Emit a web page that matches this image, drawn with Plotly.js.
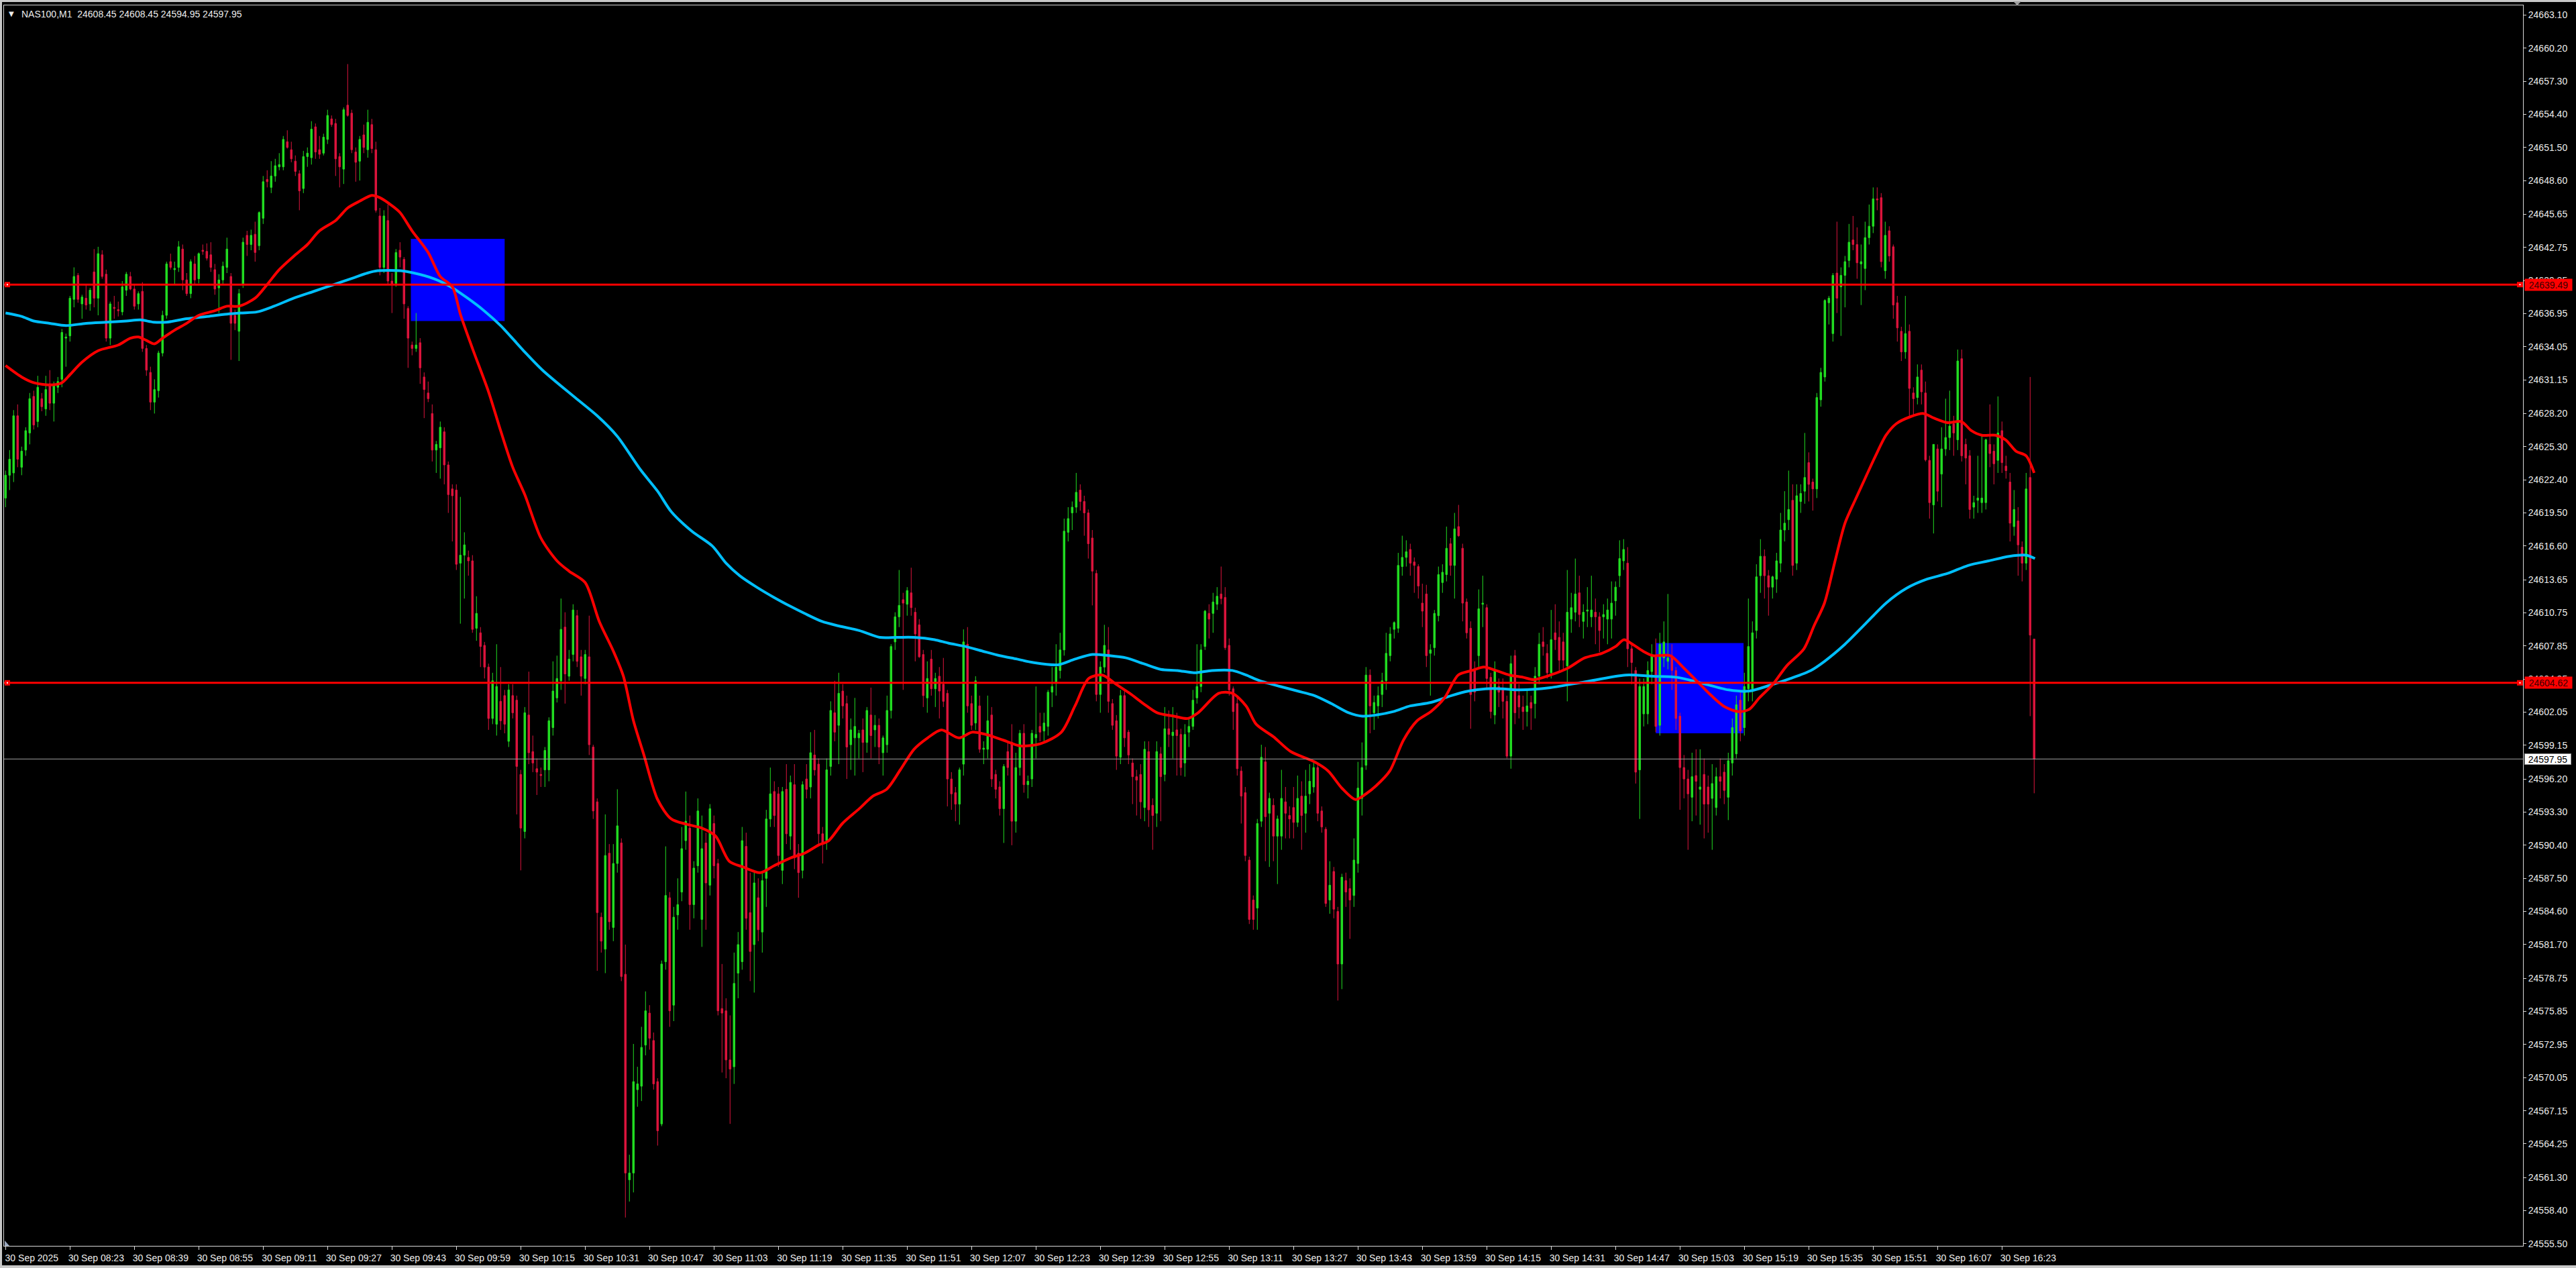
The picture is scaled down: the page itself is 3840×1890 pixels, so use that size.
<!DOCTYPE html>
<html>
<head>
<meta charset="utf-8">
<script src="https://cdn.plot.ly/plotly-3.0.1.min.js"></script>
<style>
html,body{margin:0;padding:0;background:#000;overflow:hidden;}
#chart{width:3840px;height:1890px;}
</style>
</head>
<body>
<div id="chart"></div>
<script>
// ---------------- DATA ----------------
const symbolTitle = "NAS100,M1\u00a0 24608.45 24608.45 24594.95 24597.95";

const timeLabels = ["30 Sep 2025","30 Sep 08:23","30 Sep 08:39","30 Sep 08:55","30 Sep 09:11","30 Sep 09:27",
  "30 Sep 09:43","30 Sep 09:59","30 Sep 10:15","30 Sep 10:31","30 Sep 10:47","30 Sep 11:03","30 Sep 11:19",
  "30 Sep 11:35","30 Sep 11:51","30 Sep 12:07","30 Sep 12:23","30 Sep 12:39","30 Sep 12:55","30 Sep 13:11",
  "30 Sep 13:27","30 Sep 13:43","30 Sep 13:59","30 Sep 14:15","30 Sep 14:31","30 Sep 14:47","30 Sep 15:03",
  "30 Sep 15:19","30 Sep 15:35","30 Sep 15:51","30 Sep 16:07","30 Sep 16:23"];
const minutesPerTimeLabel = 16;

const priceTicks = [24663.10,24660.20,24657.30,24654.40,24651.50,24648.60,24645.65,24642.75,24639.85,24636.95,
  24634.05,24631.15,24628.20,24625.30,24622.40,24619.50,24616.60,24613.65,24610.75,24607.85,24604.95,24602.05,
  24599.15,24596.20,24593.30,24590.40,24587.50,24584.60,24581.70,24578.75,24575.85,24572.95,24570.05,24567.15,
  24564.25,24561.30,24558.40,24555.50];

const openP = [
24620.8,24622.8,24623.0,24628.0,24623.5,24625.0,24626.5,24629.7,24627.5,24629.5,
24628.6,24630.8,24629.1,24630.5,24631.2,24634.8,24635.0,24638.2,24640.3,24637.8,
24638.3,24637.8,24640.6,24638.3,24642.1,24640.4,24634.8,24637.5,24637.3,24637.1,
24639.0,24640.2,24639.1,24637.8,24638.9,24633.9,24631.8,24629.2,24630.2,24633.5,
24636.8,24641.5,24640.8,24641.0,24642.6,24639.9,24638.7,24641.3,24640.0,24642.5,
24642.4,24642.1,24640.8,24639.2,24639.9,24641.0,24640.2,24636.8,24635.4,24639.5,
24643.8,24643.0,24643.9,24642.9,24645.3,24648.7,24648.0,24649.0,24649.8,24649.8,
24652.0,24651.3,24650.3,24649.2,24647.9,24650.7,24650.6,24653.3,24651.3,24651.0,
24652.2,24654.0,24653.6,24650.7,24649.6,24655.2,24654.5,24651.1,24650.3,24652.6,
24651.3,24653.5,24651.3,24645.5,24641.0,24645.1,24639.8,24639.6,24642.5,24641.7,
24637.4,24634.2,24633.9,24634.4,24631.4,24630.0,24628.2,24625.0,24625.2,24626.6,
24623.7,24621.6,24621.5,24615.1,24615.8,24615.6,24615.3,24609.4,24609.0,24607.9,
24606.0,24601.5,24601.0,24603.0,24603.5,24599.5,24603.5,24603.1,24596.6,24591.6,
24601.8,24598.6,24597.1,24596.6,24597.0,24597.0,24600.7,24603.3,24604.8,24609.5,
24605.2,24607.1,24610.5,24606.9,24605.0,24606.9,24599.0,24594.2,24584.1,24581.3,
24589.7,24583.2,24588.8,24590.6,24579.1,24561.1,24561.7,24569.0,24569.3,24572.9,
24575.7,24573.3,24569.7,24566.0,24580.2,24585.8,24576.4,24584.3,24586.3,24590.8,
24591.9,24585.2,24588.6,24583.9,24590.6,24586.9,24592.3,24588.8,24576.1,24575.9,
24571.6,24571.0,24579.2,24580.2,24590.3,24584.5,24581.7,24585.8,24582.8,24587.5,
24592.7,24595.1,24594.9,24588.2,24595.3,24591.2,24595.7,24589.7,24588.2,24596.2,
24595.5,24598.3,24597.5,24591.4,24590.8,24597.3,24602.0,24600.9,24603.9,24602.8,
24599.2,24599.8,24599.8,24600.5,24599.4,24601.8,24600.5,24600.9,24598.5,24599.2,
24602.2,24608.2,24610.4,24611.9,24611.5,24612.5,24610.8,24609.7,24607.1,24603.3,
24606.7,24604.1,24605.2,24604.5,24603.7,24596.2,24595.0,24594.0,24597.5,24608.0,
24602.8,24601.1,24602.6,24598.8,24598.8,24601.8,24596.6,24595.5,24593.6,24598.6,
24599.4,24592.5,24597.2,24600.2,24595.7,24596.2,24599.8,24600.8,24600.4,24600.8,
24603.8,24604.6,24605.7,24607.5,24617.8,24619.5,24620.0,24621.5,24620.5,24619.5,
24617.3,24614.2,24603.6,24606.0,24607.5,24602.8,24601.3,24598.1,24603.5,24600.3,
24597.6,24596.4,24596.6,24593.7,24598.6,24593.9,24593.2,24598.4,24596.6,24600.6,
24600.0,24600.5,24600.1,24597.6,24600.3,24600.8,24603.3,24604.3,24607.8,24610.7,
24610.7,24611.5,24612.4,24612.1,24607.9,24604.1,24602.8,24596.9,24595.0,24589.1,
24585.6,24584.9,24592.5,24597.7,24593.2,24593.9,24591.2,24591.2,24594.2,24593.0,
24593.7,24592.4,24594.7,24593.2,24594.9,24595.5,24597.2,24593.4,24591.8,24585.6,
24588.1,24584.6,24580.0,24587.3,24586.6,24586.0,24588.8,24594.5,24597.4,24605.3,
24602.0,24602.6,24603.6,24604.8,24607.0,24609.3,24609.4,24614.8,24615.6,24616.3,
24615.2,24614.8,24611.6,24612.4,24607.2,24607.7,24610.5,24613.4,24614.1,24616.8,
24614.9,24618.3,24616.4,24611.7,24609.4,24605.7,24607.0,24611.5,24611.2,24605.1,
24601.8,24604.3,24604.0,24603.0,24598.2,24607.0,24603.5,24602.5,24602.1,24602.9,
24602.8,24605.2,24608.2,24607.2,24605.5,24609.0,24608.6,24608.2,24606.1,24610.2,
24610.8,24612.5,24610.0,24610.9,24610.4,24610.8,24610.4,24610.4,24610.2,24610.2,
24611.8,24614.0,24615.3,24615.1,24607.6,24605.7,24597.0,24601.9,24601.9,24605.6,
24607.0,24600.9,24606.8,24606.5,24607.0,24605.7,24601.7,24597.2,24596.2,24594.6,
24596.5,24595.3,24596.6,24595.5,24594.5,24593.7,24596.4,24596.8,24594.6,24597.6,
24598.4,24603.1,24600.7,24604.1,24604.1,24609.2,24614.0,24615.7,24614.0,24613.0,
24613.7,24615.1,24618.0,24618.9,24620.6,24615.1,24620.5,24621.4,24623.9,24622.2,
24621.6,24629.4,24631.4,24637.9,24635.2,24640.5,24639.3,24640.3,24641.6,24643.4,
24643.0,24641.3,24640.9,24643.6,24644.6,24647.0,24647.1,24640.7,24644.2,24642.8,
24637.9,24635.4,24633.6,24635.4,24630.0,24629.6,24632.0,24630.0,24624.1,24620.2,
24625.1,24622.9,24625.1,24626.1,24627.3,24625.9,24633.0,24625.5,24624.5,24620.0,
24620.6,24620.4,24620.4,24625.5,24624.9,24624.1,24626.7,24623.6,24622.2,24618.3,
24618.8,24616.5,24615.1,24622.6,24608.45];

const highP = [
24623.2,24625.0,24628.5,24629.0,24625.3,24627.0,24630.0,24630.2,24631.5,24630.0,
24631.5,24632.0,24631.0,24631.4,24635.6,24635.2,24638.5,24641.0,24640.5,24638.6,
24639.5,24639.2,24642.6,24642.8,24642.5,24640.8,24638.0,24638.5,24638.0,24639.8,
24640.6,24640.6,24639.5,24638.9,24639.7,24634.2,24632.3,24631.2,24633.7,24637.2,
24641.5,24642.2,24641.5,24643.3,24643.0,24640.5,24641.7,24642.0,24642.3,24643.0,
24643.1,24643.2,24641.3,24640.4,24641.5,24643.6,24640.5,24637.3,24639.1,24643.6,
24644.2,24644.3,24645.0,24645.9,24649.0,24649.5,24650.3,24650.5,24651.0,24652.5,
24653.0,24652.0,24650.8,24649.5,24651.2,24651.5,24653.8,24653.6,24652.5,24652.7,
24654.8,24654.3,24654.0,24651.0,24655.0,24658.8,24654.8,24651.5,24652.5,24653.5,
24654.8,24654.0,24652.0,24646.2,24646.0,24646.5,24640.5,24642.6,24643.2,24641.9,
24637.6,24634.5,24637.0,24634.8,24631.8,24631.0,24629.0,24625.8,24627.5,24627.0,
24624.0,24622.0,24622.0,24620.9,24617.8,24616.2,24615.8,24612.2,24609.5,24608.2,
24606.3,24605.5,24608.0,24606.0,24604.0,24604.5,24604.5,24603.5,24597.0,24602.5,
24605.6,24600.0,24598.0,24597.2,24599.0,24601.6,24606.5,24607.0,24612.0,24610.8,
24607.5,24611.5,24611.0,24607.5,24607.5,24610.5,24599.2,24594.5,24584.5,24593.1,
24590.5,24590.5,24595.3,24591.0,24581.7,24563.3,24573.0,24571.0,24574.5,24577.6,
24576.4,24574.0,24570.0,24580.3,24590.3,24586.3,24585.0,24587.5,24592.0,24595.1,
24593.0,24589.0,24594.5,24593.0,24591.5,24594.0,24593.0,24589.2,24580.0,24577.0,
24575.5,24581.0,24582.8,24592.0,24591.5,24588.0,24588.0,24587.5,24588.0,24593.5,
24597.2,24596.0,24595.5,24595.5,24597.5,24596.5,24597.5,24590.5,24596.0,24597.5,
24600.3,24600.5,24598.0,24592.0,24598.0,24603.0,24604.8,24605.5,24604.5,24603.5,
24601.5,24603.3,24600.5,24601.5,24602.5,24604.2,24601.8,24601.5,24600.0,24603.5,
24608.0,24610.8,24614.5,24612.5,24613.0,24614.7,24611.2,24610.2,24607.5,24606.5,
24607.5,24605.5,24606.0,24606.8,24604.0,24596.8,24595.5,24597.2,24609.3,24609.5,
24603.5,24605.2,24603.5,24599.5,24603.5,24602.5,24597.0,24596.0,24597.5,24599.5,
24601.0,24598.5,24600.5,24601.0,24596.5,24600.5,24604.3,24602.0,24602.0,24604.0,
24606.0,24608.0,24609.0,24619.0,24620.0,24620.5,24623.0,24622.0,24621.0,24619.8,
24618.0,24614.5,24606.5,24609.7,24609.5,24603.2,24601.8,24604.0,24604.0,24600.5,
24598.0,24597.0,24597.5,24599.5,24599.5,24594.5,24599.5,24599.0,24602.5,24602.2,
24602.5,24602.0,24600.6,24601.0,24601.5,24604.0,24608.0,24608.0,24611.0,24611.5,
24612.5,24613.0,24614.8,24613.0,24608.5,24604.3,24603.5,24597.3,24595.5,24589.4,
24586.0,24592.7,24599.2,24599.0,24595.0,24594.5,24593.0,24597.0,24595.5,24593.8,
24595.5,24596.5,24596.0,24597.0,24597.5,24597.8,24597.5,24593.8,24592.0,24589.0,
24588.5,24585.0,24587.9,24588.0,24587.5,24591.0,24597.7,24599.4,24606.0,24605.8,
24603.5,24604.3,24605.5,24609.0,24609.5,24610.0,24616.0,24617.5,24617.1,24616.8,
24615.6,24615.0,24613.3,24613.2,24608.0,24611.0,24614.8,24615.0,24618.3,24617.3,
24619.5,24620.2,24616.8,24612.0,24610.0,24606.5,24612.8,24614.0,24611.5,24605.5,
24606.5,24605.0,24605.0,24603.5,24607.0,24607.5,24604.5,24603.5,24604.0,24603.5,
24606.0,24609.0,24609.5,24608.0,24611.0,24611.5,24610.0,24609.0,24614.5,24612.5,
24615.5,24614.0,24611.5,24613.0,24614.0,24612.0,24610.8,24611.5,24612.0,24613.5,
24613.5,24617.1,24617.2,24616.5,24608.0,24606.0,24605.0,24605.0,24606.5,24608.0,
24608.5,24609.0,24610.0,24612.4,24608.0,24606.0,24602.0,24598.3,24597.0,24598.5,
24598.8,24598.8,24598.0,24596.5,24597.5,24597.2,24598.0,24597.5,24598.5,24601.5,
24603.5,24604.0,24605.5,24612.0,24610.0,24615.0,24617.2,24616.3,24614.5,24614.0,
24616.0,24619.5,24621.4,24623.2,24622.0,24622.0,24622.0,24626.5,24624.8,24622.5,
24630.0,24632.2,24638.2,24638.5,24640.5,24645.0,24641.0,24642.0,24644.8,24645.5,
24644.5,24643.0,24645.0,24646.5,24648.0,24648.0,24647.5,24645.0,24644.6,24643.0,
24638.5,24635.8,24638.5,24636.0,24630.5,24632.5,24632.5,24631.0,24624.5,24625.5,
24625.5,24627.0,24629.5,24630.2,24628.0,24633.8,24633.8,24626.0,24625.0,24621.0,
24624.5,24626.3,24626.0,24629.0,24625.5,24629.7,24627.5,24624.5,24623.0,24621.5,
24620.0,24617.0,24623.0,24631.4,24608.45];

const lowP = [
24620.0,24621.5,24622.2,24623.5,24622.8,24624.5,24625.5,24626.8,24627.0,24628.4,
24628.0,24628.5,24627.5,24630.0,24630.5,24632.3,24634.5,24637.5,24637.9,24636.5,
24637.3,24637.2,24637.5,24636.8,24640.0,24634.5,24634.2,24636.5,24636.7,24636.8,
24638.5,24639.0,24637.3,24637.3,24633.6,24631.5,24628.5,24628.2,24629.6,24633.2,
24636.5,24640.8,24639.5,24640.6,24639.0,24638.5,24638.3,24639.5,24639.6,24642.1,
24641.6,24640.6,24638.6,24637.0,24639.5,24640.5,24632.9,24635.5,24632.8,24639.2,
24642.0,24642.5,24641.5,24642.5,24644.8,24648.0,24647.5,24648.5,24649.5,24649.5,
24651.4,24650.2,24649.0,24646.0,24647.5,24649.8,24650.0,24650.5,24650.5,24650.8,
24651.8,24653.3,24649.0,24648.0,24648.3,24654.2,24651.0,24648.5,24648.6,24651.0,
24650.6,24651.0,24645.8,24640.3,24640.5,24639.5,24637.0,24639.3,24641.0,24636.5,
24632.2,24633.3,24633.6,24630.8,24627.8,24629.2,24624.0,24623.0,24622.5,24622.0,
24619.5,24617.0,24614.5,24609.8,24612.0,24614.0,24609.0,24608.3,24606.0,24605.0,
24600.5,24601.0,24600.0,24600.5,24600.2,24599.0,24601.5,24593.1,24588.2,24591.0,
24597.5,24596.8,24594.8,24595.5,24595.5,24596.0,24600.0,24602.9,24604.0,24602.8,
24604.8,24606.5,24606.0,24603.5,24604.5,24598.3,24592.7,24579.4,24581.0,24579.2,
24583.0,24582.0,24588.0,24578.5,24557.8,24559.2,24560.0,24567.5,24568.0,24572.0,
24572.5,24569.0,24564.1,24565.8,24579.5,24574.5,24575.0,24583.0,24585.5,24590.0,
24583.0,24584.0,24588.0,24581.5,24583.0,24586.0,24587.5,24575.5,24570.5,24570.0,
24566.0,24569.5,24577.0,24579.5,24583.0,24578.5,24577.5,24582.0,24581.0,24585.0,
24592.0,24592.0,24588.5,24587.0,24590.5,24590.0,24588.3,24585.8,24587.5,24594.5,
24594.5,24596.5,24590.5,24588.8,24590.0,24596.5,24599.5,24597.5,24601.5,24596.2,
24597.0,24596.5,24598.0,24596.8,24598.5,24598.0,24599.0,24597.5,24596.5,24598.5,
24601.5,24607.5,24609.5,24604.0,24610.5,24610.5,24606.5,24606.8,24602.5,24602.0,
24603.5,24602.5,24601.5,24602.5,24593.8,24593.5,24592.5,24592.2,24596.5,24602.0,
24600.5,24600.5,24598.5,24597.5,24598.0,24595.5,24594.5,24593.0,24590.6,24596.5,
24590.4,24591.5,24596.5,24595.0,24594.5,24595.5,24598.0,24599.5,24599.5,24600.0,
24602.5,24603.5,24605.0,24607.0,24617.0,24618.0,24619.5,24619.7,24617.5,24615.5,
24611.4,24603.0,24602.0,24605.5,24602.0,24600.5,24597.0,24597.5,24599.0,24597.5,
24594.0,24593.0,24592.7,24592.5,24592.0,24590.0,24592.0,24592.5,24596.0,24599.0,
24598.0,24596.5,24596.5,24596.4,24599.0,24600.5,24602.8,24603.8,24607.5,24608.5,
24609.0,24611.0,24611.5,24607.5,24603.5,24600.5,24596.5,24592.3,24589.0,24583.5,
24583.0,24583.0,24592.0,24589.0,24588.5,24589.0,24587.0,24590.0,24591.0,24591.0,
24591.0,24592.0,24590.0,24591.5,24594.0,24595.0,24592.5,24591.5,24585.0,24584.4,
24584.0,24576.8,24577.8,24585.0,24582.2,24585.0,24588.0,24593.0,24597.0,24600.2,
24600.5,24601.5,24602.5,24604.0,24606.5,24608.5,24609.0,24614.0,24614.8,24614.0,
24612.5,24612.0,24609.5,24606.0,24603.5,24607.0,24610.0,24612.5,24613.5,24614.0,
24612.0,24617.4,24610.0,24608.5,24600.6,24603.0,24606.0,24609.5,24604.0,24601.5,
24601.0,24602.5,24601.5,24598.0,24597.1,24601.0,24601.5,24600.5,24600.8,24600.5,
24601.5,24604.5,24607.0,24605.0,24605.0,24607.5,24605.5,24605.8,24603.0,24609.0,
24610.0,24609.5,24608.5,24609.5,24609.5,24608.0,24607.3,24608.5,24608.0,24608.5,
24610.5,24613.0,24614.5,24606.0,24604.5,24595.8,24592.7,24600.8,24601.0,24604.5,
24600.3,24600.0,24606.0,24605.8,24604.0,24600.5,24593.5,24594.5,24590.0,24592.5,
24593.0,24592.2,24591.0,24591.5,24590.0,24593.0,24594.5,24594.0,24592.6,24596.5,
24598.0,24599.5,24600.0,24603.0,24603.0,24608.5,24612.5,24612.0,24610.5,24612.0,
24612.5,24614.3,24617.0,24618.0,24614.0,24614.5,24619.5,24620.3,24620.5,24619.7,
24620.8,24628.8,24631.0,24636.0,24634.5,24637.0,24635.0,24637.5,24641.0,24642.5,
24640.0,24637.7,24639.0,24643.0,24644.0,24646.0,24641.0,24640.0,24641.5,24636.5,
24634.5,24632.8,24633.0,24628.0,24628.0,24629.0,24629.0,24624.0,24619.0,24617.7,
24620.5,24620.0,24624.5,24625.0,24624.5,24625.0,24624.0,24622.0,24619.0,24619.0,
24619.5,24619.5,24619.8,24623.5,24622.0,24623.0,24623.0,24622.5,24617.0,24617.5,
24614.0,24613.5,24614.5,24601.7,24594.95];

const closeP = [
24622.8,24624.2,24628.0,24624.2,24624.9,24626.7,24629.5,24627.2,24630.5,24628.8,
24630.3,24629.1,24630.7,24631.0,24635.3,24634.9,24638.3,24640.2,24638.2,24638.4,
24637.7,24639.0,24638.3,24642.2,24640.2,24634.8,24637.8,24637.4,24637.2,24639.3,
24640.4,24639.1,24637.6,24638.7,24633.9,24632.0,24629.2,24630.3,24633.5,24636.8,
24641.3,24641.0,24640.9,24642.8,24639.9,24638.7,24641.5,24639.9,24642.2,24642.4,
24641.8,24641.0,24639.1,24639.9,24641.1,24642.6,24636.1,24636.1,24638.7,24643.2,
24643.0,24643.8,24642.3,24645.8,24648.5,24648.5,24649.0,24649.9,24650.0,24652.2,
24651.5,24650.5,24649.4,24647.7,24650.7,24651.0,24653.1,24651.1,24650.9,24652.4,
24654.3,24653.5,24650.5,24649.8,24654.8,24654.3,24651.3,24650.2,24652.2,24651.5,
24653.7,24651.4,24646.0,24641.0,24645.5,24639.8,24639.5,24642.3,24641.9,24637.8,
24634.8,24633.9,24634.2,24632.2,24630.3,24629.5,24625.0,24625.5,24627.0,24623.7,
24621.1,24621.0,24615.0,24615.8,24616.7,24615.3,24609.3,24610.7,24607.8,24606.0,
24601.5,24604.8,24604.3,24601.3,24601.0,24604.0,24602.0,24597.3,24591.9,24602.0,
24598.5,24597.6,24596.8,24596.5,24598.7,24601.3,24603.9,24605.0,24609.3,24605.4,
24606.7,24611.0,24606.5,24605.2,24607.1,24599.2,24593.4,24584.5,24582.0,24589.5,
24583.7,24588.8,24592.1,24578.9,24561.7,24561.7,24569.7,24569.5,24572.7,24575.9,
24573.5,24569.5,24565.4,24580.0,24586.0,24575.9,24584.1,24585.2,24590.1,24592.5,
24585.2,24588.4,24593.4,24590.1,24587.1,24593.6,24588.6,24575.9,24575.7,24571.6,
24570.8,24578.3,24581.7,24590.8,24584.0,24581.1,24587.1,24583.0,24587.3,24592.7,
24594.9,24593.0,24589.5,24595.1,24591.4,24595.9,24589.3,24588.0,24595.7,24595.3,
24598.5,24597.0,24591.4,24590.6,24597.0,24602.2,24600.3,24603.7,24602.6,24599.0,
24600.5,24600.8,24600.2,24599.4,24602.2,24600.0,24600.9,24599.0,24599.8,24602.2,
24607.8,24610.4,24611.4,24611.6,24612.7,24611.2,24608.9,24606.9,24603.5,24605.0,
24604.1,24605.0,24603.9,24603.0,24596.2,24594.9,24594.0,24597.0,24608.2,24602.6,
24600.9,24604.8,24598.8,24598.9,24601.3,24596.2,24595.3,24593.6,24597.3,24597.2,
24592.5,24597.2,24600.2,24595.7,24596.0,24600.2,24600.1,24600.3,24601.1,24603.8,
24604.3,24606.0,24607.5,24617.9,24619.0,24620.0,24621.3,24620.5,24619.5,24616.8,
24614.4,24603.6,24606.0,24607.9,24603.0,24600.9,24598.2,24603.5,24599.8,24598.3,
24596.4,24596.1,24594.2,24598.8,24593.5,24593.0,24598.6,24596.4,24600.6,24600.1,
24600.3,24600.0,24597.2,24600.1,24600.8,24603.1,24604.3,24607.5,24610.9,24610.2,
24611.7,24612.2,24612.0,24607.7,24604.0,24602.1,24597.1,24594.7,24589.5,24583.9,
24583.9,24592.3,24598.1,24592.9,24594.5,24591.2,24592.7,24594.5,24593.2,24592.7,
24592.4,24594.5,24593.0,24594.7,24596.0,24597.2,24593.2,24592.0,24585.3,24586.9,
24584.8,24580.0,24587.6,24586.3,24585.6,24589.1,24595.4,24597.2,24605.3,24602.6,
24602.9,24603.5,24604.8,24607.2,24608.9,24609.9,24614.9,24615.6,24616.1,24615.1,
24614.9,24613.1,24610.9,24607.0,24607.5,24610.7,24614.1,24614.3,24616.4,24614.9,
24618.1,24617.5,24611.6,24609.0,24603.6,24603.8,24611.1,24611.6,24605.0,24602.1,
24605.7,24603.8,24603.0,24598.2,24606.3,24602.0,24602.5,24602.1,24602.6,24602.4,
24605.2,24608.0,24607.8,24605.5,24608.4,24608.4,24606.6,24606.6,24610.8,24611.2,
24612.4,24610.6,24610.8,24611.0,24611.0,24610.4,24609.2,24610.6,24611.0,24611.6,
24613.0,24615.5,24616.3,24607.6,24606.4,24596.8,24604.3,24604.3,24605.7,24607.0,
24600.8,24608.0,24608.2,24606.8,24605.7,24601.5,24597.2,24596.2,24594.9,24596.4,
24596.0,24595.5,24594.0,24594.0,24595.8,24596.4,24596.0,24595.2,24597.8,24600.7,
24602.7,24600.4,24604.3,24607.8,24609.0,24613.9,24615.7,24614.0,24613.0,24613.9,
24615.3,24618.0,24618.6,24619.8,24614.9,24621.0,24621.2,24622.6,24622.0,24621.6,
24629.6,24631.8,24638.1,24638.3,24640.3,24638.3,24640.3,24641.5,24643.2,24643.0,
24641.4,24641.5,24643.6,24644.6,24647.0,24646.9,24641.5,24643.8,24642.0,24637.7,
24635.7,24633.6,24635.2,24630.4,24629.5,24631.4,24630.1,24624.15,24620.4,24625.5,
24621.4,24625.1,24626.1,24627.1,24626.5,24632.8,24624.5,24624.3,24619.8,24620.4,
24620.8,24620.8,24625.9,24624.7,24623.8,24626.5,24623.9,24623.2,24618.6,24619.8,
24616.7,24615.1,24621.6,24608.8,24597.95];

// Moving averages (x = minute index, y = price)
const maRedX = [0,4,7,11,14,16,19,23,28,31,33,35,37,39,42,45,48,52,55,58,62,65,68,72,75,78,82,85,88,91,
  93,96,98,101,105,108,111,113,116,120,123,126,129,133,137,140,144,147.5,151,153.5,156,158.6,162,165.4,169.6,
  173,176.4,179.8,183.2,187.5,190.9,195.1,198.5,201.9,204.5,207.9,212.1,215.5,218.9,222.3,225.7,229.1,232.5,
  236.8,240.2,243.6,247.9,252.1,257.2,262.3,265.7,269.1,272.5,275.9,279.3,282.7,286.1,290.3,293.7,296.3,301.4,
  304.8,308.2,310.7,315,319.3,325.2,328.6,332,335.4,338,340.5,343.9,347.3,350.7,354.1,357.5,360.9,364.3,367.3,
  370.3,373.7,377.1,379.6,383.8,388.1,392.3,396.6,400,402.1,404.2,406.8,409.3,413.6,417,420.4,423.8,427.2,
  430.6,433.2,435.7,439.1,442.5,446.8,449.3,451.9,454.4,457,459.5,462.1,464.6,467.2,469.7,473.1,476.5,479.1,
  482.5,485.9,488.4,491,494.4,496.9,499.5,502,504];
const maRedY = [24632.4,24631.4,24630.9,24630.7,24630.9,24631.6,24632.7,24633.7,24634.2,24634.8,
  24634.9,24634.6,24634.3,24634.8,24635.5,24636.1,24636.8,24637.2,24637.6,24637.6,
  24638.3,24639.5,24640.8,24642.1,24643.0,24644.2,24645.1,24646.2,24646.8,24647.3,
  24647.1,24646.4,24645.8,24644.2,24642.3,24640.2,24639.3,24636.9,24633.9,24630.1,
  24626.7,24623.5,24621.1,24617.3,24615.3,24614.4,24613.4,24610.0,24607.4,24605.2,
  24601.3,24598.3,24594.4,24592.7,24592.2,24591.9,24591.2,24589.0,24588.5,24588.0,
  24588.6,24589.3,24589.7,24590.4,24590.8,24592.3,24593.6,24594.7,24595.3,24597.0,
  24598.8,24599.8,24600.5,24599.8,24600.3,24600.1,24599.6,24599.1,24599.3,24600.3,
  24602.6,24605.0,24605.3,24604.5,24603.7,24602.8,24602.0,24601.7,24601.5,24602.0,
  24603.7,24603.7,24602.6,24601.0,24599.9,24598.6,24597.7,24596.9,24595.4,24594.4,
  24594.9,24595.6,24596.9,24599.6,24601.3,24602.1,24603.3,24605.3,24605.7,24606.0,
  24605.7,24605.3,24605.1,24604.9,24605.3,24605.9,24606.8,24607.2,24607.8,24608.4,
  24608.0,24607.4,24607.0,24607.0,24605.9,24604.7,24603.5,24602.5,24602.1,24602.3,
  24603.3,24604.5,24606.1,24607.6,24609.6,24611.6,24615.1,24618.6,24620.6,24622.6,
  24624.5,24626.3,24627.3,24627.9,24628.2,24627.8,24627.4,24627.5,24626.7,24626.3,
  24626.3,24625.9,24624.9,24624.5,24623.0];

const maBlueX = [0,4,7,11,15,20,25,30,33.5,36.8,40,45,50,55,58.4,62.5,66.7,71.6,76.6,81.6,
  86.6,89.9,92.4,98.2,101.5,106.5,110.6,114.8,118.9,123,128.7,133.4,141.5,147,152,157.7,162,165.4,170.5,175.6,
  179,182.4,186.6,190.9,195.1,198.5,202.8,207,212.1,217.2,221.5,225.7,230.8,234.2,238.5,242.7,247,251.3,255.3,261.4,
  265.7,270,274.2,278.4,282.7,287,291.2,295.4,299.7,304.8,308.2,311.6,316.7,321,325.2,329.4,333.7,337.1,340.5,344.8,
  349,354.1,359.2,363.5,367.7,372,376.2,383.8,392.3,402.5,409.3,415.3,421.3,428.1,433.2,438.3,443.4,448.5,451.9,457,
  462.1,467.2,472.3,477.4,482.5,487.6,492.7,497.8,502,504.2];
const maBlueY = [24637.0,24636.7,24636.3,24636.1,24635.9,24636.1,24636.2,24636.3,24636.4,24636.2,
  24636.2,24636.5,24636.7,24636.9,24637.0,24637.1,24637.6,24638.3,24638.9,24639.5,
  24640.1,24640.5,24640.7,24640.7,24640.5,24640.0,24639.3,24638.3,24637.2,24635.9,
  24633.7,24632.0,24629.6,24628.0,24626.2,24623.3,24621.4,24619.6,24617.9,24616.6,
  24615.1,24614.0,24613.0,24612.1,24611.3,24610.7,24610.0,24609.6,24609.2,24608.6,
  24608.6,24608.6,24608.4,24608.1,24607.8,24607.4,24607.0,24606.7,24606.4,24606.2,
  24606.7,24607.1,24607.0,24606.8,24606.3,24605.8,24605.7,24605.5,24605.7,24605.7,
  24605.3,24604.8,24604.3,24603.9,24603.5,24602.8,24602.0,24601.7,24601.8,24602.1,
  24602.6,24602.9,24603.5,24603.9,24604.1,24604.1,24604.0,24604.2,24604.7,24605.3,
  24605.2,24605.1,24604.6,24604.0,24603.9,24604.4,24605.0,24605.7,24606.5,24608.0,
  24609.8,24611.6,24612.9,24613.7,24614.2,24614.9,24615.3,24615.7,24615.8,24615.5];

const levelPrices = [24639.49, 24604.62];
const bidPrice = 24597.95;
const zoneStart = [100.7, 410.0];
const zoneEnd = [124.0, 431.8];
const zoneLow = [24636.3, 24600.2];
const zoneHigh = [24643.5, 24608.1];

// ---------------- STYLE / LAYOUT ----------------
const W = 3840, H = 1890;
const PL = 6, PR = 3761, PT = 8, PB = 1857;
const px = v => (v - PL) / (PR - PL);
const py = v => (PB - v) / (PB - PT);

const BULL = '#22dd22', BEAR = '#dc143c';
const FG = '#d9d9d9', TXT = '#ececec';
const FONT = 'Liberation Sans, Arial, sans-serif';

const idx = openP.map((_, i) => i);

const traces = [
  {
    type: 'candlestick', x: idx, open: openP, high: highP, low: lowP, close: closeP,
    increasing: {line: {color: BULL, width: 1}, fillcolor: BULL},
    decreasing: {line: {color: BEAR, width: 1}, fillcolor: BEAR},
    whiskerwidth: 0, hoverinfo: 'skip', showlegend: false
  },
  {
    type: 'scatter', mode: 'lines', x: maBlueX, y: maBlueY,
    line: {color: '#00bfff', width: 4, shape: 'spline', smoothing: 0.8},
    hoverinfo: 'skip', showlegend: false
  },
  {
    type: 'scatter', mode: 'lines', x: maRedX, y: maRedY,
    line: {color: '#ff0000', width: 4, shape: 'spline', smoothing: 0.8},
    hoverinfo: 'skip', showlegend: false
  }
];

const shapes = [];
zoneStart.forEach((x0, i) => {
  shapes.push({type: 'rect', xref: 'x', yref: 'y', x0: x0, x1: zoneEnd[i], y0: zoneLow[i], y1: zoneHigh[i],
    fillcolor: '#0000ff', line: {width: 0}, layer: 'below'});
});
shapes.push({type: 'line', xref: 'paper', yref: 'y', x0: 0, x1: 1, y0: bidPrice, y1: bidPrice,
  line: {color: '#a0a0a0', width: 1}, layer: 'above'});
levelPrices.forEach(p => {
  shapes.push({type: 'line', xref: 'paper', yref: 'y', x0: 0, x1: 1, y0: p, y1: p,
    line: {color: '#ff0000', width: 3}, layer: 'above'});
  [[7, 15], [3752, 3761]].forEach(([a, b]) => {
    shapes.push({type: 'rect', xref: 'paper', yref: 'y', x0: px(a), x1: px(b), ysizemode: 'pixel', yanchor: p,
      y0: -4, y1: 4, fillcolor: '#ff0000', line: {width: 0}, layer: 'above'});
    const c = (a + b) / 2;
    shapes.push({type: 'rect', xref: 'paper', yref: 'y', x0: px(c - 1), x1: px(c + 1), ysizemode: 'pixel', yanchor: p,
      y0: -1, y1: 1, fillcolor: '#ffffff', line: {width: 0}, layer: 'above'});
  });
});
// window frame
shapes.push({type: 'rect', xref: 'paper', yref: 'paper', x0: px(0), x1: px(W), y0: py(0), y1: py(3),
  fillcolor: '#c8c8c8', line: {width: 0}, layer: 'above'});
shapes.push({type: 'rect', xref: 'paper', yref: 'paper', x0: px(0), x1: px(W), y0: py(1886), y1: py(H),
  fillcolor: '#c8c8c8', line: {width: 0}, layer: 'above'});
shapes.push({type: 'rect', xref: 'paper', yref: 'paper', x0: px(0), x1: px(3), y0: py(0), y1: py(H),
  fillcolor: '#c8c8c8', line: {width: 0}, layer: 'above'});
// chart shift marker at top and small marker bottom-left
shapes.push({type: 'path', xref: 'paper', yref: 'paper',
  path: `M ${px(3001)},${py(2)} L ${px(3013)},${py(2)} L ${px(3007)},${py(8)} Z`,
  fillcolor: '#a0a0a0', line: {width: 0}, layer: 'above'});
shapes.push({type: 'path', xref: 'paper', yref: 'paper',
  path: `M ${px(7)},${py(1849)} L ${px(7)},${py(1857)} L ${px(14)},${py(1857)} Z`,
  fillcolor: '#9aa8c0', line: {width: 0}, layer: 'above'});

const annotations = [
  {xref: 'paper', yref: 'paper', x: px(17), y: py(21), xanchor: 'center', yanchor: 'middle',
   text: '\u25BC', showarrow: false, font: {family: 'DejaVu Sans', size: 10, color: TXT}},
  {xref: 'paper', yref: 'paper', x: px(30), y: py(21), xanchor: 'left', yanchor: 'middle',
   text: symbolTitle, showarrow: false, font: {family: FONT, size: 14, color: TXT}}
];
levelPrices.forEach(p => {
  annotations.push({xref: 'paper', yref: 'y', x: px(3763), y: p, xanchor: 'left', yanchor: 'middle',
    text: p.toFixed(2), showarrow: false, bgcolor: '#ff0000', borderpad: 1, width: 68, height: 15,
    font: {family: FONT, size: 14, color: '#3a0000'}});
});
annotations.push({xref: 'paper', yref: 'y', x: px(3763), y: bidPrice, xanchor: 'left', yanchor: 'middle',
  text: bidPrice.toFixed(2), showarrow: false, bgcolor: '#ffffff', bordercolor: '#909090', borderwidth: 1,
  borderpad: 0, width: 68, height: 15, font: {family: FONT, size: 14, color: '#000000'}});

const layout = {
  width: W, height: H,
  paper_bgcolor: '#000000', plot_bgcolor: '#000000',
  margin: {l: PL, r: W - PR, t: PT, b: H - PB, pad: 0, autoexpand: false},
  showlegend: false, hovermode: false, dragmode: false,
  boxgap: 0.4,
  xaxis: {
    range: [-0.38, 625.45], fixedrange: true,
    rangeslider: {visible: false},
    tickmode: 'array', tickvals: timeLabels.map((_, i) => i * minutesPerTimeLabel), ticktext: timeLabels,
    ticks: 'outside', ticklen: 5, tickcolor: FG, tickwidth: 1,
    showline: true, linecolor: FG, linewidth: 1, mirror: true,
    showgrid: false, zeroline: false,
    ticklabelshift: 39, ticklabelstandoff: 0,
    tickfont: {family: FONT, size: 14, color: TXT}
  },
  yaxis: {
    side: 'right', range: [24555.32, 24663.94], fixedrange: true,
    tickmode: 'array', tickvals: priceTicks, ticktext: priceTicks.map(v => v.toFixed(2)),
    ticks: 'outside', ticklen: 4, tickcolor: FG, tickwidth: 1,
    showline: true, linecolor: FG, linewidth: 1, mirror: true,
    showgrid: false, zeroline: false,
    tickfont: {family: FONT, size: 14, color: TXT}
  },
  shapes: shapes,
  annotations: annotations
};

Plotly.newPlot('chart', traces, layout, {staticPlot: true, displayModeBar: false});
</script>
</body>
</html>
